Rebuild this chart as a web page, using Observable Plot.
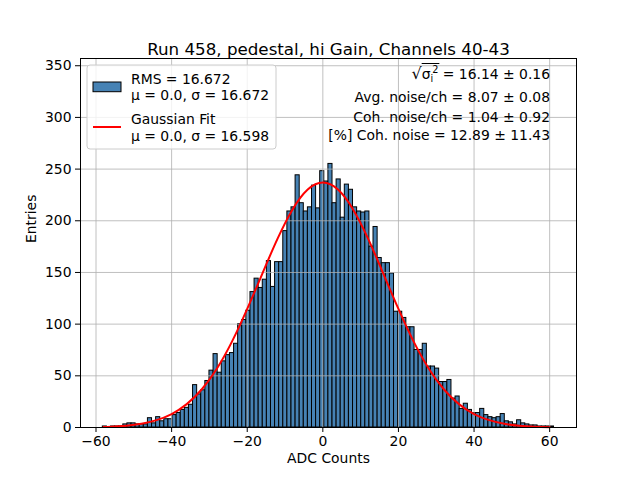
<!DOCTYPE html>
<html><head><meta charset="utf-8">
<script src="https://cdn.jsdelivr.net/npm/d3@7"></script>
<script src="https://cdn.jsdelivr.net/npm/@observablehq/plot@0.6"></script>
<style>body{margin:0;background:#fff}</style>
</head><body><div id="chart"></div>
<script>
// Histogram: 110 bins
const binStart = -58.2;
const binWidth = 1.085;
const counts = [
  1, 0, 1, 1, 1, 3, 4, 4, 3, 3,
  3, 9, 4, 10, 6, 8, 8, 12, 14, 17,
  19, 22, 41, 32, 36, 45, 55, 71, 53, 64,
  70, 72, 81, 100, 104, 113, 131, 144, 135, 143,
  161, 136, 160, 160, 190, 209, 213, 244, 217, 209,
  213, 234, 212, 248, 238, 255, 217, 240, 203, 235,
  230, 213, 209, 208, 209, 175, 194, 164, 159, 159,
  149, 112, 112, 106, 97, 97, 75, 75, 81, 59,
  59, 57, 44, 44, 46, 28, 30, 18, 23, 17,
  14, 14, 18, 12, 10, 9, 10, 13, 6, 5,
  3, 7, 4, 3, 2, 2, 1, 1, 1, 1
];
// Gaussian fit curve
const fitX = [-58, -56, -52, -48, -44, -40, -36, -32, -28, -24, -20, -16, -12, -8, -4, 0,
              4, 8, 12, 16, 20, 24, 28, 32, 36, 40, 44, 48, 52, 56, 60];
const fitY = [0.53, 0.8, 1.75, 3.6, 7.1, 13.0, 22.6, 37.0, 57.1, 83.3, 114.7, 148.9, 182.5, 211.0, 230.2, 237,
              230.2, 211.0, 182.5, 148.9, 114.7, 83.3, 57.1, 37.0, 22.6, 13.0, 7.1, 3.6, 1.75, 0.8, 0.34];
const xTicks = [-60, -40, -20, 0, 20, 40, 60];
const yTicks = [0, 50, 100, 150, 200, 250, 300, 350];
const titleText = "Run 458, pedestal, hi Gain, Channels 40-43";
const xLabel = "ADC Counts";
const yLabel = "Entries";
const legendLines = ["RMS = 16.672", "μ = 0.0, σ = 16.672", "Gaussian Fit", "μ = 0.0, σ = 16.598"];
const statLines = ["Avg. noise/ch = 8.07 ± 0.08", "Coh. noise/ch = 1.04 ± 0.92", "[%] Coh. noise = 12.89 ± 11.43"];
const sigmaValue = " = 16.14 ± 0.16";

const bins = counts.map((c, i) => ({x1: binStart + i * binWidth, x2: binStart + (i + 1) * binWidth, y: c}));
const fit = fitX.map((x, i) => ({x, y: fitY[i]}));
const minus = d => d < 0 ? "\u2212" + Math.abs(d) : String(d);
const FS = 13.9;

const plot = Plot.plot({
  width: 640, height: 480,
  marginLeft: 80, marginRight: 64, marginTop: 58, marginBottom: 53,
  style: {fontFamily: "DejaVu Sans", fontSize: FS + "px", color: "black", background: "white", overflow: "visible"},
  x: {domain: [-64.1, 67.1]},
  y: {domain: [0, 357]},
  marks: [
    Plot.rectY(bins, {x1: "x1", x2: "x2", y: "y", fill: "#4682b4", stroke: "black", strokeWidth: 1}),
    Plot.gridX(xTicks, {stroke: "#b0b0b0", strokeOpacity: 1, strokeWidth: 0.8}),
    Plot.gridY(yTicks, {stroke: "#b0b0b0", strokeOpacity: 1, strokeWidth: 0.8}),
    Plot.line(fit, {x: "x", y: "y", stroke: "red", strokeWidth: 2, curve: "natural"}),
    Plot.frame({stroke: "black", strokeWidth: 1}),
    Plot.axisX(xTicks, {tickSize: 5, tickPadding: 4, label: null, tickFormat: minus, fontSize: FS}),
    Plot.axisY(yTicks, {tickSize: 5, tickPadding: 4, label: null, tickFormat: minus, fontSize: FS}),
    Plot.text([titleText], {frameAnchor: "top", dy: -15, fontSize: 16.7}),
    Plot.text([xLabel], {frameAnchor: "bottom", dy: 35, fontSize: FS}),
    Plot.text([yLabel], {frameAnchor: "left", dx: -49, rotate: -90, fontSize: FS})
  ]
});
document.getElementById("chart").appendChild(plot);

const svg = d3.select(plot);
const g = svg.append("g").attr("font-family", "DejaVu Sans").attr("font-size", FS).attr("text-anchor", "start");
// legend
g.append("rect").attr("x", 87).attr("y", 65).attr("width", 189).attr("height", 84).attr("rx", 3)
  .attr("fill", "white").attr("fill-opacity", 0.8).attr("stroke", "#cccccc");
g.append("rect").attr("x", 93).attr("y", 82).attr("width", 28).attr("height", 9.7)
  .attr("fill", "#4682b4").attr("stroke", "black").attr("stroke-width", 1);
g.append("line").attr("x1", 93).attr("x2", 121).attr("y1", 127).attr("y2", 127)
  .attr("stroke", "red").attr("stroke-width", 2);
const legendY = [83.5, 100.2, 123.9, 140.6];
legendLines.forEach((t, i) => g.append("text").attr("x", 131).attr("y", legendY[i])
  .attr("text-anchor", "start").attr("fill", "black").text(t));
// stats text (right aligned)
const statY = [102, 122, 140];
statLines.forEach((t, i) => g.append("text").attr("x", 550).attr("y", statY[i])
  .attr("text-anchor", "end").attr("fill", "black").text(t));
const st = g.append("text").attr("x", 550).attr("y", 79).attr("text-anchor", "end").attr("fill", "black");
st.append("tspan").attr("font-size", FS * 1.15).text("√");
st.append("tspan").text("σ");
st.append("tspan").attr("font-size", FS * 0.7).attr("dy", 3).text("i");
st.append("tspan").attr("font-size", FS * 0.7).attr("dy", -9).attr("dx", -1).text("2");
st.append("tspan").attr("dy", 6).text(sigmaValue);
try {
  const node = st.node();
  const a = node.getStartPositionOfChar(1).x;
  const b = node.getEndPositionOfChar(3).x + 1;
  g.append("line").attr("x1", a).attr("x2", b).attr("y1", 63.5).attr("y2", 63.5).attr("stroke", "black").attr("stroke-width", 1);
} catch (e) {}
</script>
</body></html>
